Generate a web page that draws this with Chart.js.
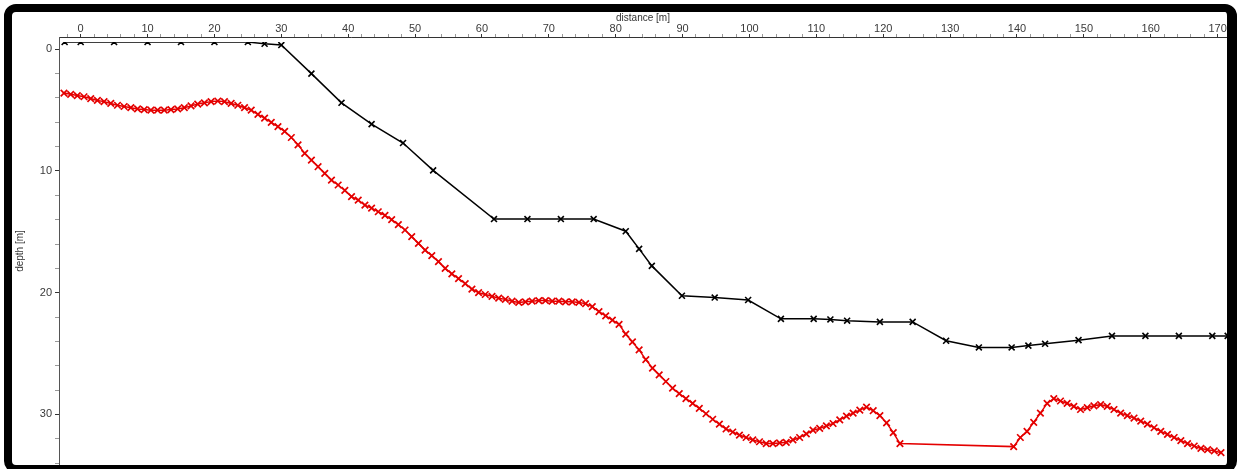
<!DOCTYPE html>
<html>
<head>
<meta charset="utf-8">
<script src="https://cdn.jsdelivr.net/npm/chart.js@4/dist/chart.umd.min.js"></script>
<style>
  html, body { margin: 0; padding: 0; background: #ffffff; overflow: hidden; }
  body { width: 1238px; height: 469px; position: relative; }
  #frame {
    position: absolute; left: 4px; top: 4px;
    width: 1215px; height: 453px;
    border-style: solid; border-color: #000;
    border-width: 8px 10px 8px 8px;
    border-radius: 12px;
    background: #fff;
  }
  #wrap { position: absolute; left: 12px; top: 12px; width: 1215px; height: 453px; }
  canvas { display: block; }
</style>
</head>
<body>
<div id="frame"></div>
<div id="wrap"><canvas id="c" width="1215" height="453"></canvas></div>
<script>
// ---- data ----
const blackDistance = [-2.4, 0, 5, 10, 15, 20, 25, 27.5, 30, 34.5,
  39, 43.5, 48.2, 52.7, 61.8, 66.8, 71.8, 76.7, 81.5, 83.5,
  85.4, 89.9, 94.8, 99.8, 104.7, 109.6, 112.1, 114.6, 119.5, 124.4,
  129.4, 134.3, 139.2, 141.7, 144.2, 149.2, 154.2, 159.2, 164.2, 169.2, 171.5];
const blackDepth = [-0.6, -0.6, -0.6, -0.6, -0.6, -0.6, -0.6, -0.45, -0.35, 2.0,
  4.4, 6.15, 7.7, 9.95, 13.95, 13.95, 13.95, 13.95, 14.95, 16.4,
  17.8, 20.25, 20.4, 20.6, 22.15, 22.15, 22.2, 22.3, 22.4, 22.4,
  23.95, 24.5, 24.5, 24.35, 24.2, 23.9, 23.55, 23.55, 23.55, 23.55, 23.55];

const redDistance = [
  -2.5, -1.5, -0.5, 0.5, 1.5, 2.5, 3.5, 4.5, 5.5, 6.5,
  7.5, 8.5, 9.5, 10.5, 11.5, 12.5, 13.5, 14.5, 15.5, 16.5,
  17.5, 18.5, 19.5, 20.5, 21.5, 22.5, 23.5, 24.5, 25.5, 26.5,
  27.5, 28.5, 29.5, 30.5, 31.5, 32.5, 33.5, 34.5, 35.5, 36.5,
  37.5, 38.5, 39.5, 40.5, 41.5, 42.5, 43.5, 44.5, 45.5, 46.5,
  47.5, 48.5, 49.5, 50.5, 51.5, 52.5, 53.5, 54.5, 55.5, 56.5,
  57.5, 58.5, 59.5, 60.5, 61.5, 62.5, 63.5, 64.5, 65.5, 66.5,
  67.5, 68.5, 69.5, 70.5, 71.5, 72.5, 73.5, 74.5, 75.5, 76.5,
  77.5, 78.5, 79.5, 80.5, 81.5, 82.5, 83.5, 84.5, 85.5, 86.5,
  87.5, 88.5, 89.5, 90.5, 91.5, 92.5, 93.5, 94.5, 95.5, 96.5,
  97.5, 98.5, 99.5, 100.5, 101.5, 102.5, 103.5, 104.5, 105.5, 106.5,
  107.5, 108.5, 109.5, 110.5, 111.5, 112.5, 113.5, 114.5, 115.5, 116.5,
  117.5, 118.5, 119.5, 120.5, 121.5, 122.5,
  139.5, 140.5, 141.5, 142.5, 143.5, 144.5, 145.5, 146.5, 147.5, 148.5,
  149.5, 150.5, 151.5, 152.5, 153.5, 154.5, 155.5, 156.5, 157.5, 158.5,
  159.5, 160.5, 161.5, 162.5, 163.5, 164.5, 165.5, 166.5, 167.5, 168.5,
  169.5, 170.5];
const redDepth = [
  3.6, 3.7, 3.8, 3.9, 4.05, 4.2, 4.3, 4.45, 4.6, 4.7,
  4.8, 4.9, 4.95, 5.0, 5.0, 5.0, 4.95, 4.9, 4.8, 4.65,
  4.5, 4.4, 4.3, 4.25, 4.3, 4.45, 4.6, 4.8, 5.0, 5.35,
  5.65, 6.0, 6.35, 6.75, 7.25, 7.85, 8.55, 9.1, 9.65, 10.2,
  10.75, 11.15, 11.6, 12.1, 12.4, 12.8, 13.05, 13.35, 13.65, 14.0,
  14.4, 14.85, 15.4, 15.95, 16.5, 16.95, 17.45, 18.0, 18.45, 18.85,
  19.25, 19.7, 20.0, 20.15, 20.3, 20.45, 20.55, 20.7, 20.8, 20.75,
  20.7, 20.65, 20.65, 20.7, 20.7, 20.75, 20.75, 20.8, 20.9, 21.15,
  21.55, 21.9, 22.25, 22.6, 23.4, 24.05, 24.7, 25.5, 26.2, 26.75,
  27.3, 27.85, 28.3, 28.7, 29.1, 29.5, 29.95, 30.4, 30.8, 31.2,
  31.45, 31.7, 31.9, 32.1, 32.25, 32.4, 32.4, 32.35, 32.3, 32.1,
  31.9, 31.6, 31.3, 31.15, 30.95, 30.75, 30.45, 30.15, 29.9, 29.65,
  29.4, 29.7, 30.1, 30.7, 31.5, 32.4,
  32.65, 31.9, 31.4, 30.65, 29.9, 29.1, 28.7, 28.9, 29.1, 29.35,
  29.6, 29.45, 29.3, 29.2, 29.35, 29.6, 29.9, 30.1, 30.3, 30.55,
  30.8, 31.1, 31.4, 31.65, 31.9, 32.15, 32.4, 32.6, 32.8, 32.9,
  33.0, 33.15];

const xTickLabels = [0, 10, 20, 30, 40, 50, 60, 70, 80, 90, 100, 110, 120, 130, 140, 150, 160, 170];
const yTickLabels = [0, 10, 20, 30];
const xTitle = 'distance [m]';
const yTitle = 'depth [m]';

// ---- build chart ----
const toPoints = (xs, ys) => xs.map((x, i) => ({ x: x, y: ys[i] }));
// major ticks come from the label arrays, minor ticks every 2 m in between
const minorStep = 2;
const buildTicks = (labels) => (scale) => {
  const vals = [];
  const start = Math.ceil(scale.min / minorStep) * minorStep;
  for (let v = start; v <= scale.max + 1e-9; v += minorStep) vals.push(v);
  labels.forEach(v => { if (!vals.includes(v) && v >= scale.min && v <= scale.max) vals.push(v); });
  vals.sort((a, b) => a - b);
  scale.ticks = vals.map(v => ({ value: v }));
};
const labelFont = { family: 'Liberation Sans, Arial, sans-serif', size: 11, lineHeight: 1 };
const titleFont = { family: 'Liberation Sans, Arial, sans-serif', size: 10, lineHeight: 1.2 };

new Chart(document.getElementById('c'), {
  type: 'line',
  data: {
    datasets: [
      {
        label: 'measured',
        data: toPoints(redDistance, redDepth),
        borderColor: '#e40000',
        backgroundColor: '#e40000',
        borderWidth: 1.5,
        pointStyle: 'crossRot',
        pointRadius: 4.6,
        pointBorderWidth: 1.7,
        pointBorderColor: '#e40000',
        tension: 0,
        fill: false
      },
      {
        label: 'design',
        data: toPoints(blackDistance, blackDepth),
        borderColor: '#000000',
        backgroundColor: '#000000',
        borderWidth: 1.5,
        pointStyle: 'crossRot',
        pointRadius: 4.2,
        pointBorderWidth: 1.6,
        pointBorderColor: '#000000',
        tension: 0,
        fill: false,
        clip: { top: -5, left: 0, right: 0, bottom: 0 }
      }
    ]
  },
  options: {
    responsive: false,
    animation: false,
    events: [],
    layout: { padding: 0, autoPadding: false },
    plugins: { legend: { display: false }, tooltip: { enabled: false } },
    scales: {
      x: {
        type: 'linear',
        position: 'top',
        min: -3.24,
        max: 171.4,
        afterBuildTicks: buildTicks(xTickLabels),
        afterFit: (s) => { s.height = 25; s.paddingLeft = 0; s.paddingRight = 0; },
        ticks: {
          autoSkip: false,
          maxRotation: 0,
          padding: 0,
          color: '#3a3a3a',
          font: labelFont,
          callback: (v) => xTickLabels.includes(v) ? String(v) : ''
        },
        grid: {
          drawOnChartArea: false,
          drawTicks: true,
          tickLength: 3,
          tickColor: (ctx) => (ctx.tick && xTickLabels.includes(ctx.tick.value)) ? '#333' : '#999'
        },
        border: { display: true, color: '#333', width: 1 },
        title: { display: true, text: xTitle, color: '#333', font: titleFont, padding: { top: 0, bottom: 0 } }
      },
      y: {
        type: 'linear',
        position: 'left',
        reverse: true,
        min: -1.01,
        max: 34.16,
        afterBuildTicks: buildTicks(yTickLabels),
        afterFit: (s) => { s.width = 47; s.paddingTop = 0; s.paddingBottom = 0; },
        ticks: {
          autoSkip: false,
          padding: 3,
          color: '#3a3a3a',
          font: labelFont,
          callback: (v) => yTickLabels.includes(v) ? String(v) : ''
        },
        grid: {
          drawOnChartArea: false,
          drawTicks: true,
          tickLength: 4,
          tickColor: (ctx) => (ctx.tick && yTickLabels.includes(ctx.tick.value)) ? '#333' : '#999'
        },
        border: { display: true, color: '#555', width: 1 },
        title: { display: true, text: yTitle, color: '#333', font: titleFont, padding: { top: 2, bottom: 0 } }
      }
    }
  }
});
</script>
</body>
</html>
